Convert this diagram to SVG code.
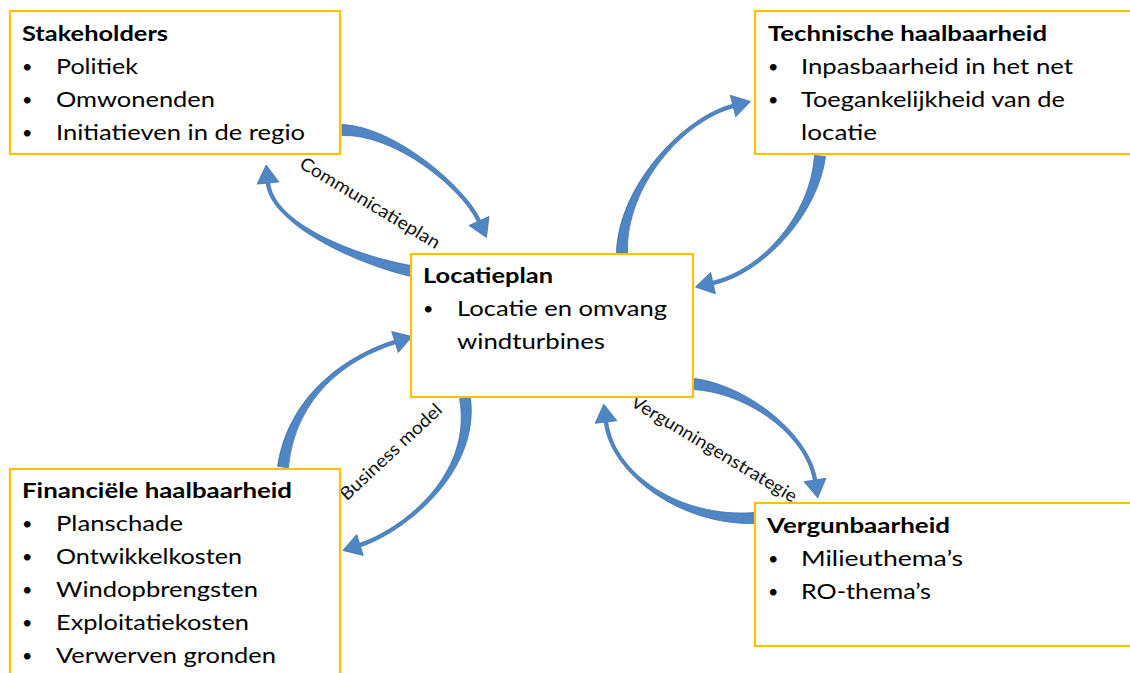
<svg xmlns="http://www.w3.org/2000/svg" width="1130" height="673" viewBox="0 0 1130 673">
<style>
.box{fill:#fff;stroke:#FFC000;stroke-width:2.2}
.t{font-family:Lato,"Liberation Sans",sans-serif;font-size:21px;fill:#000}
.bl{font-family:Lato,"Liberation Sans",sans-serif;font-size:18px;fill:#000}
.b{font-weight:bold}
.arr{fill:#4F86C6;stroke:#3E6FA8;stroke-width:0.8}
.lbl{font-family:Lato,"Liberation Sans",sans-serif;font-size:18px;fill:#111;text-anchor:middle}
</style>
<rect width="1130" height="673" fill="#fff"/>
<g id="connectors">
<path class="arr" d="M342,135.5 C395,133.5 462.4,188.7 477.4,221.7 L469,225.5 L486.4,237.4 L489,216.5 L480.6,220.3 C465.6,187.3 395,126.5 342,124.5 Z"/>
<path class="arr" d="M412.1,265.7 C353.5,255.6 273.7,222.8 269.7,182.8 L278.9,181.9 L266.2,165.1 L257.1,184.1 L266.3,183.2 C270.3,223.2 352.1,262.4 409.9,276.3 Z"/>
<path class="arr" d="M627.5,253 C625.5,185 684.9,120.2 733.4,107.7 L735.75,116.7 L750.5,101.5 L730.25,95.3 L732.6,104.3 C684.1,116.8 618.5,185 616.5,253 Z"/>
<path class="arr" d="M814.5,155.45 C810.5,215.65 761.1,270.3 712.6,281.3 L710.6,272.3 L695.5,287 L715.4,293.7 L713.4,284.7 C761.9,273.7 817.5,216.35 825.5,156.55 Z"/>
<path class="arr" d="M288.4,467.7 C295.5,395.4 348,358.7 395.5,343.7 L398.3,352.45 L412.1,336.6 L391.7,331.55 L394.5,340.3 C347,355.3 288.5,394.6 277.6,466.3 Z"/>
<path class="arr" d="M459.6,398.8 C473.5,477.5 397.5,531.3 359.5,543.3 L356.7,534.55 L342.9,550.4 L363.3,555.45 L360.5,546.7 C398.5,534.7 480.5,476.5 470.4,397.2 Z"/>
<path class="arr" d="M693.45,389.5 C748.65,393 806.3,435.8 813.3,480.3 L804.1,481.65 L817.7,497.8 L825.9,478.35 L816.7,479.7 C809.7,435.2 749.35,386 694.55,378.5 Z"/>
<path class="arr" d="M754.7,512.5 C679.8,518.5 613.9,473.3 607.7,421.8 L616.9,420.7 L603.8,404.2 L595.1,423.3 L604.3,422.2 C610.5,473.7 680.2,525.5 755.3,523.5 Z"/>
<text class="lbl" transform="translate(370,203) rotate(31)" y="6" textLength="160" lengthAdjust="spacingAndGlyphs">Communicatieplan</text>
<text class="lbl" transform="translate(391,452) rotate(-43)" y="6" textLength="132" lengthAdjust="spacingAndGlyphs">Business model</text>
<text class="lbl" transform="translate(714,449) rotate(31)" y="6" textLength="190" lengthAdjust="spacingAndGlyphs">Vergunningenstrategie</text>
</g>
<g id="stakeholders">
<rect class="box" x="10" y="11" width="330" height="143"/>
<text class="t b" x="22" y="41" textLength="146" lengthAdjust="spacingAndGlyphs">Stakeholders</text>
<text class="bl" x="22" y="73">•</text><text class="t" x="56" y="74" textLength="82" lengthAdjust="spacingAndGlyphs">Politiek</text>
<text class="bl" x="22" y="106">•</text><text class="t" x="56" y="107" textLength="159" lengthAdjust="spacingAndGlyphs">Omwonenden</text>
<text class="bl" x="22" y="139">•</text><text class="t" x="56" y="140" textLength="249" lengthAdjust="spacingAndGlyphs">Initiatieven in de regio</text>
</g>
<g id="technische">
<rect class="box" x="755" y="11" width="390" height="143"/>
<text class="t b" x="768" y="41" textLength="279" lengthAdjust="spacingAndGlyphs">Technische haalbaarheid</text>
<text class="bl" x="768" y="73">•</text><text class="t" x="801" y="74" textLength="272" lengthAdjust="spacingAndGlyphs">Inpasbaarheid in het net</text>
<text class="bl" x="768" y="106">•</text><text class="t" x="801" y="107" textLength="264" lengthAdjust="spacingAndGlyphs">Toegankelijkheid van de</text>
<text class="t" x="801" y="140" textLength="76" lengthAdjust="spacingAndGlyphs">locatie</text>
</g>
<g id="locatieplan">
<rect class="box" x="411" y="254" width="282" height="143"/>
<text class="t b" x="423" y="283" textLength="130" lengthAdjust="spacingAndGlyphs">Locatieplan</text>
<text class="bl" x="423" y="315">•</text><text class="t" x="457" y="316" textLength="210" lengthAdjust="spacingAndGlyphs">Locatie en omvang</text>
<text class="t" x="457" y="349" textLength="148" lengthAdjust="spacingAndGlyphs">windturbines</text>
</g>
<g id="financiele">
<rect class="box" x="10" y="469" width="330" height="220"/>
<text class="t b" x="22" y="498" textLength="270" lengthAdjust="spacingAndGlyphs">Financiële haalbaarheid</text>
<text class="bl" x="22" y="530">•</text><text class="t" x="56" y="531" textLength="127" lengthAdjust="spacingAndGlyphs">Planschade</text>
<text class="bl" x="22" y="563">•</text><text class="t" x="56" y="564" textLength="186" lengthAdjust="spacingAndGlyphs">Ontwikkelkosten</text>
<text class="bl" x="22" y="596">•</text><text class="t" x="56" y="597" textLength="202" lengthAdjust="spacingAndGlyphs">Windopbrengsten</text>
<text class="bl" x="22" y="629">•</text><text class="t" x="56" y="630" textLength="193" lengthAdjust="spacingAndGlyphs">Exploitatiekosten</text>
<text class="bl" x="22" y="662">•</text><text class="t" x="56" y="663" textLength="220" lengthAdjust="spacingAndGlyphs">Verwerven gronden</text>
</g>
<g id="vergunbaarheid">
<rect class="box" x="755" y="503" width="390" height="143"/>
<text class="t b" x="767" y="533" textLength="183" lengthAdjust="spacingAndGlyphs">Vergunbaarheid</text>
<text class="bl" x="768" y="565">•</text><text class="t" x="801" y="566" textLength="162" lengthAdjust="spacingAndGlyphs">Milieuthema’s</text>
<text class="bl" x="768" y="598">•</text><text class="t" x="801" y="599" textLength="130" lengthAdjust="spacingAndGlyphs">RO-thema’s</text>
</g>
</svg>
